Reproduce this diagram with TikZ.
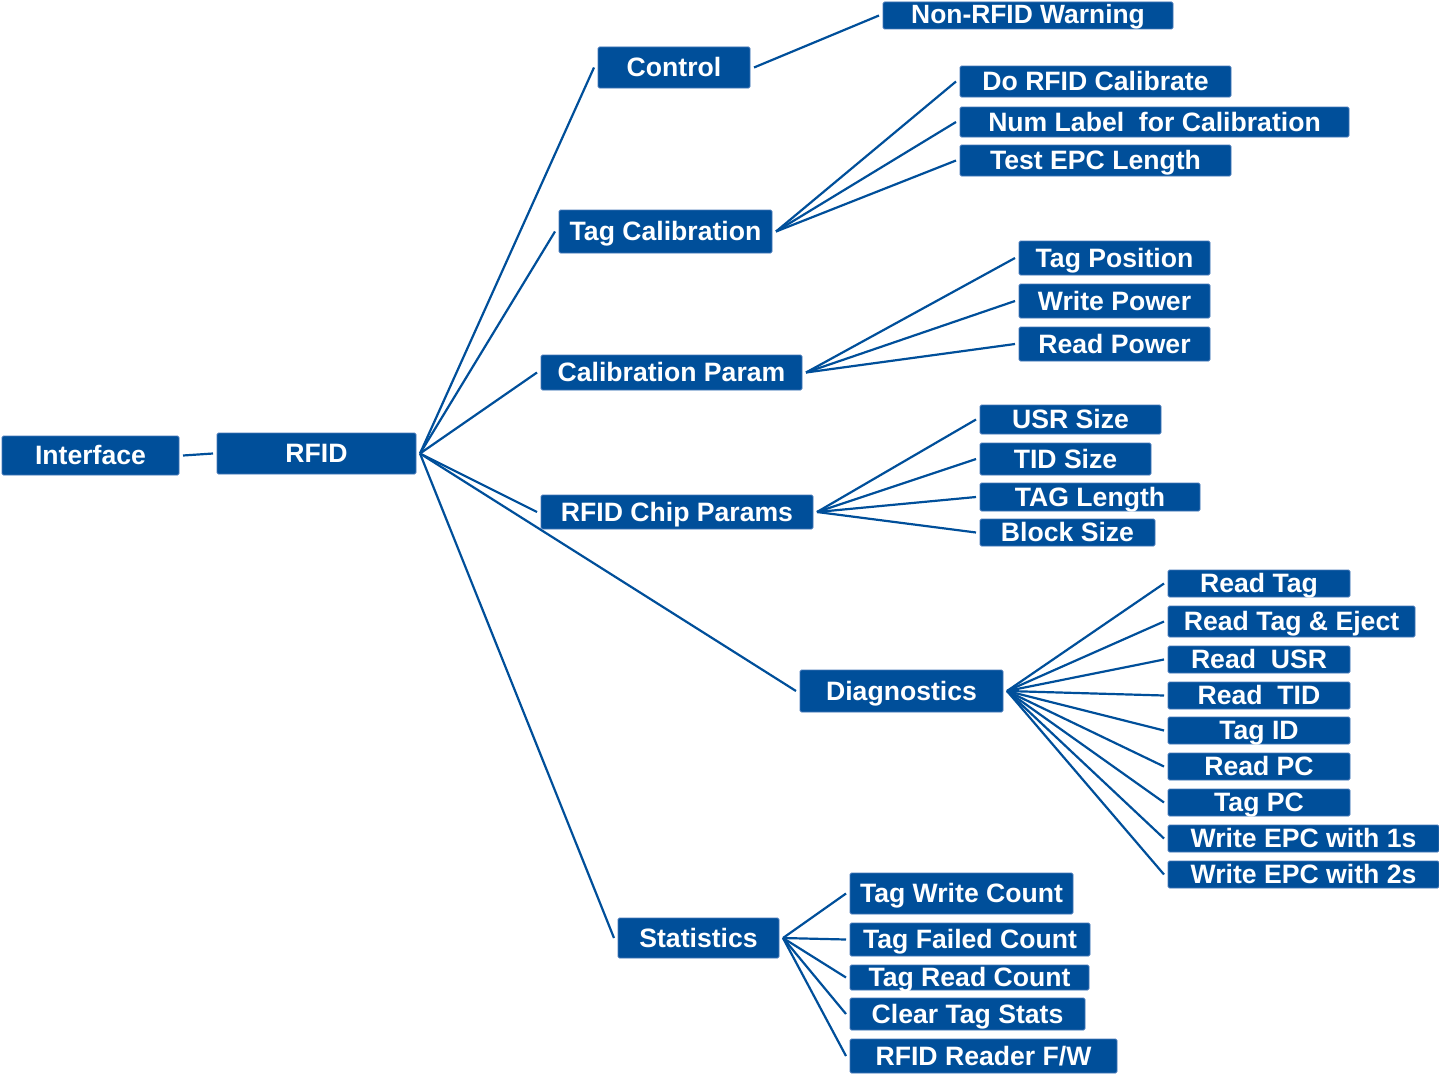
\documentclass[tikz,border=0pt]{standalone}
\usepackage{fontspec}
\setmainfont{Liberation Sans}
\usetikzlibrary{backgrounds}
\definecolor{boxblue}{RGB}{0,79,154}
\definecolor{boxedge}{RGB}{70,120,185}
\tikzset{
  box/.style={fill=boxblue, draw=boxedge, line width=0.8pt, text=white,
    font=\fontsize{26.6}{28}\selectfont\bfseries, inner sep=0pt,
    text height=19pt, text depth=1pt, outer xsep=4pt, outer ysep=0pt,
    rounded corners=1.5pt, align=center},
  conn/.style={draw=boxblue, line width=2.2pt}
}
\begin{document}
\begin{tikzpicture}[x=1pt,y=-1pt]
\useasboundingbox (0,0) rectangle (1439,1073);
% level 0/1
\node[box,minimum width=177pt,minimum height=39pt] (interface) at (90.5,455.5) {Interface};
\node[box,minimum width=199pt,minimum height=41pt] (rfid) at (316.5,453.5) {RFID};
% level 2
\node[box,minimum width=152pt,minimum height=41pt] (control) at (674,67.5) {Control};
\node[box,minimum width=213pt,minimum height=43pt] (tagcal) at (665.5,231.5) {Tag Calibration};
\node[box,minimum width=261pt,minimum height=35pt] (calparam) at (671.5,372.5) {Calibration Param};
\node[box,minimum width=272pt,minimum height=34pt] (chip) at (677,512) {RFID Chip Params};
\node[box,minimum width=203pt,minimum height=42pt] (diag) at (901.5,691) {Diagnostics};
\node[box,minimum width=161pt,minimum height=40pt] (stats) at (698.5,938) {Statistics};
% control children
\node[box,minimum width=290pt,minimum height=27pt,font=\fontsize{26.4}{28}\selectfont\bfseries,text height=18pt] (nonrfid) at (1028,15.5) {Non-RFID Warning};
% tag calibration children
\node[box,minimum width=271pt,minimum height=31pt] (docal) at (1095.5,81.5) {Do RFID Calibrate};
\node[box,minimum width=389pt,minimum height=30pt] (numlabel) at (1154.5,122) {Num Label~~for Calibration};
\node[box,minimum width=271pt,minimum height=31pt] (testepc) at (1095.5,160.5) {Test EPC Length};
% calibration param children
\node[box,minimum width=191pt,minimum height=34pt] (tagpos) at (1114.5,258) {Tag Position};
\node[box,minimum width=191pt,minimum height=34pt] (writepow) at (1114.5,301) {Write Power};
\node[box,minimum width=191pt,minimum height=34pt] (readpow) at (1114.5,344) {Read Power};
% chip params children
\node[box,minimum width=181pt,minimum height=29pt] (usr) at (1070.5,419.5) {USR Size};
\node[box,minimum width=171pt,minimum height=32pt] (tid) at (1065.5,459) {TID Size};
\node[box,minimum width=220pt,minimum height=28pt] (taglen) at (1090,497) {TAG Length};
\node[box,minimum width=175pt,minimum height=27pt] (block) at (1067.5,532.5) {Block Size};
% diagnostics children
\node[box,minimum width=182pt,minimum height=27pt] (readtag) at (1259,583.5) {Read Tag};
\node[box,minimum width=247pt,minimum height=31pt] (eject) at (1291.5,621.5) {Read Tag \& Eject};
\node[box,minimum width=182pt,minimum height=27pt] (readusr) at (1259,659.5) {Read~~USR};
\node[box,minimum width=182pt,minimum height=27pt] (readtid) at (1259,695.5) {Read~~TID};
\node[box,minimum width=182pt,minimum height=27pt] (tagid) at (1259,730.5) {Tag ID};
\node[box,minimum width=182pt,minimum height=27pt] (readpc) at (1259,766.5) {Read PC};
\node[box,minimum width=182pt,minimum height=27pt] (tagpc) at (1259,802.5) {Tag PC};
\node[box,minimum width=271pt,minimum height=27pt] (epc1) at (1303.5,838.5) {Write EPC with 1s};
\node[box,minimum width=271pt,minimum height=27pt] (epc2) at (1303.5,874.5) {Write EPC with 2s};
% statistics children
\node[box,minimum width=223pt,minimum height=41pt] (twc) at (961.5,893.5) {Tag Write Count};
\node[box,minimum width=240pt,minimum height=33pt] (tfc) at (970,939.5) {Tag Failed Count};
\node[box,minimum width=239pt,minimum height=25pt] (trc) at (969.5,977.5) {Tag Read Count};
\node[box,minimum width=235pt,minimum height=32pt] (cts) at (967.5,1014) {Clear Tag Stats};
\node[box,minimum width=267pt,minimum height=34pt] (fw) at (983.5,1056) {RFID Reader F/W};
% connectors
\begin{scope}[on background layer]
\draw[conn] (interface.east) -- (rfid.west);
\foreach \c in {control,tagcal,calparam,chip,diag,stats}
  \draw[conn] (rfid.east) -- (\c.west);
\draw[conn] (control.east) -- (nonrfid.west);
\foreach \c in {docal,numlabel,testepc}
  \draw[conn] (tagcal.east) -- (\c.west);
\foreach \c in {tagpos,writepow,readpow}
  \draw[conn] (calparam.east) -- (\c.west);
\foreach \c in {usr,tid,taglen,block}
  \draw[conn] (chip.east) -- (\c.west);
\foreach \c in {readtag,eject,readusr,readtid,tagid,readpc,tagpc,epc1,epc2}
  \draw[conn] (diag.east) -- (\c.west);
\foreach \c in {twc,tfc,trc,cts,fw}
  \draw[conn] (stats.east) -- (\c.west);
\end{scope}
\end{tikzpicture}
\end{document}
